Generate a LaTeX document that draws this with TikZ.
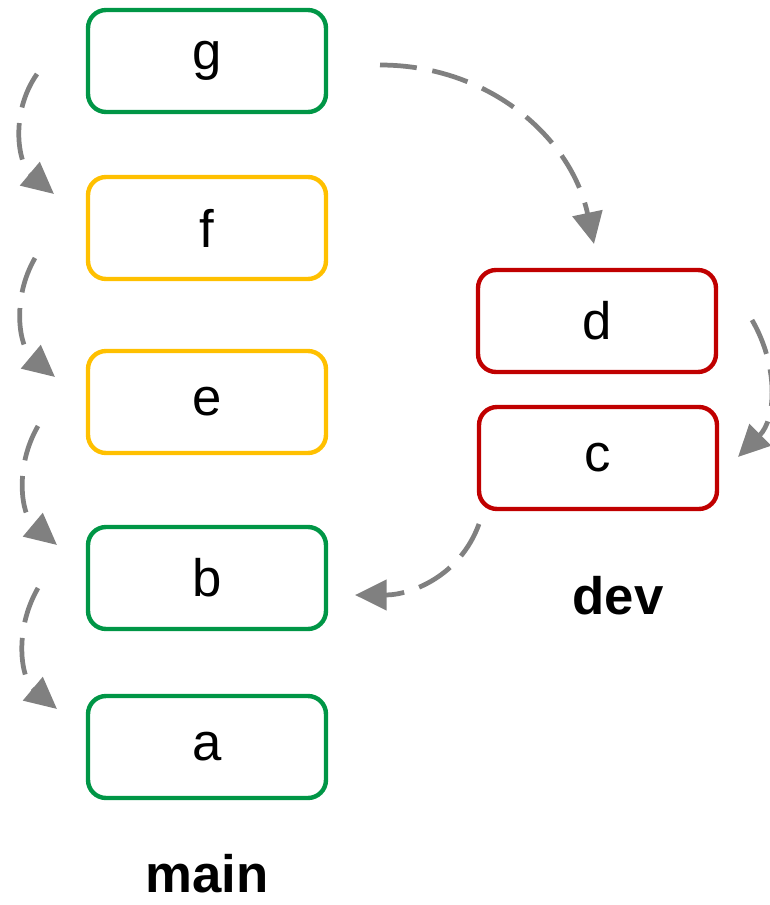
\documentclass[tikz,border=0pt]{standalone}
\usepackage{fontspec}
\setmainfont{Liberation Sans}
\usepackage{xcolor}
\usetikzlibrary{arrows.meta}

\definecolor{commitgreen}{RGB}{0,150,70}
\definecolor{commityellow}{RGB}{255,192,0}
\definecolor{commitred}{RGB}{192,0,0}
\definecolor{linkgray}{RGB}{128,128,128}

\tikzset{
    commit/.style={draw, line width=2.5pt, rounded corners=0.36cm,
        minimum width=4.76cm, minimum height=2.04cm, font=\fontsize{30}{36}\selectfont},
    link/.style={draw=linkgray, line width=2.7pt, dash pattern=on 21pt off 9pt,
        -{Triangle[length=18pt, width=17pt]}},
    branch/.style={inner sep=0pt, font=\fontsize{30}{36}\selectfont\bfseries}
}

\begin{document}
\begin{tikzpicture}[x=0.02cm, y=-0.02cm]
        \useasboundingbox (0,0) rectangle (769,905);

        % main branch
        \node[commit, draw=commitgreen] (g) at (207,61) {g};
        \node[commit, draw=commityellow] (f) at (207,228) {f};
        \node[commit, draw=commityellow] (e) at (207,402) {e};
        \node[commit, draw=commitgreen] (b) at (207,578) {b};
        \node[commit, draw=commitgreen] (a) at (207,747) {a};
        \node[branch] (main) at (207,874) {main};

        % dev branch
        \node[commit, draw=commitred] (d) at (597,321) {d};
        \node[commit, draw=commitred] (c) at (598,458) {c};
        \node[branch] (dev) at (618,596) {dev};

        % loose ends of the links
        \coordinate (g-s) at (37,74);   \coordinate (f-t) at (54,194);
        \coordinate (f-s) at (35,258);  \coordinate (e-t) at (55,377);
        \coordinate (e-s) at (38,426);  \coordinate (b-t) at (57,545);
        \coordinate (b-s) at (38,588);  \coordinate (a-t) at (57,709);
        \coordinate (g-r) at (380,65);  \coordinate (d-t) at (594,244);
        \coordinate (d-r) at (752,320); \coordinate (c-t) at (738,457);
        \coordinate (c-l) at (479,524); \coordinate (b-r) at (355,595);

        \draw[link] (g-s) to[out=235, in=140] (f-t);
        \draw[link] (f-s) to[out=240, in=140] (e-t);
        \draw[link] (e-s) to[out=240, in=140] (b-t);
        \draw[link] (b-s) to[out=240, in=140] (a-t);

        \draw[link] (g-r) to[out=0, in=102] (d-t);
        \draw[link] (d-r) to[out=-60, in=45] (c-t);
        \draw[link] (c-l) to[out=-110, in=0] (b-r);
    \end{tikzpicture}
\end{document}
